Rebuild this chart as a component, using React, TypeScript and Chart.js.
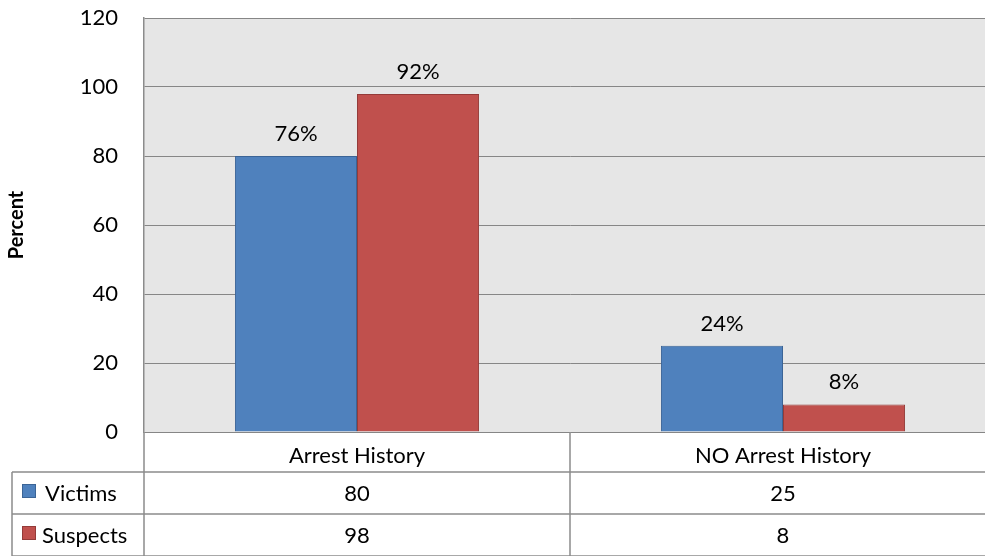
import React, { useEffect, useRef } from "react";
import { Chart, registerables } from "chart.js";

Chart.register(...registerables);

const categories = ["Arrest History", "NO Arrest History"];
const seriesNames = ["Victims", "Suspects"];
const victims = [80, 25];
const suspects = [98, 8];
const victimLabels = ["76%", "24%"];
const suspectLabels = ["92%", "8%"];
const yTicks = [0, 20, 40, 60, 80, 100, 120];

const FONT = "Lato, 'Open Sans', sans-serif";
const FS = 22;
const BLUE = "#4F81BD";
const BLUE_B = "#3B6496";
const RED = "#C0504D";
const RED_B = "#943B39";
const LINE = "#8c8c8c";

const tablePlugin = {
  id: "tablePlugin",
  beforeDraw(chart: any) {
    const { ctx, chartArea } = chart;
    ctx.save();
    ctx.fillStyle = "#ffffff";
    ctx.fillRect(0, 0, chart.width, chart.height);
    ctx.fillStyle = "#e6e6e6";
    ctx.fillRect(chartArea.left, chartArea.top, chartArea.right - chartArea.left, chartArea.bottom - chartArea.top);
    ctx.restore();
  },
  afterDraw(chart: any) {
    const { ctx, chartArea } = chart;
    const left = chartArea.left;
    const right = chartArea.right;
    const bottom = chartArea.bottom;
    const rowH = [40, 42, 42];
    const labelLeft = 12;
    ctx.save();
    // data labels
    ctx.font = `${FS}px ${FONT}`;
    ctx.fillStyle = "#000";
    ctx.textAlign = "center";
    ctx.textBaseline = "alphabetic";
    const labelSets = [victimLabels, suspectLabels];
    chart.data.datasets.forEach((ds: any, di: number) => {
      const meta = chart.getDatasetMeta(di);
      meta.data.forEach((bar: any, i: number) => {
        ctx.fillText(labelSets[di][i], bar.x, bar.y - 15);
      });
    });
    // table
    const n = categories.length;
    const colEdges: number[] = [];
    for (let i = 0; i <= n; i++) colEdges.push(left + ((right - left) * i) / n);
    ctx.strokeStyle = LINE;
    ctx.lineWidth = 1.5;
    const y0 = bottom;
    const y1 = y0 + rowH[0];
    const y2 = y1 + rowH[1];
    const y3 = y2 + rowH[2];
    ctx.beginPath();
    colEdges.forEach((x) => {
      ctx.moveTo(x, y0);
      ctx.lineTo(x, y3);
    });
    ctx.moveTo(labelLeft, y1);
    ctx.lineTo(labelLeft, y3);
    ctx.moveTo(labelLeft, y1);
    ctx.lineTo(right, y1);
    ctx.moveTo(labelLeft, y2);
    ctx.lineTo(right, y2);
    ctx.moveTo(labelLeft, y3);
    ctx.lineTo(right, y3);
    ctx.stroke();

    ctx.fillStyle = "#000";
    ctx.font = `${FS}px ${FONT}`;
    ctx.textAlign = "center";
    ctx.textBaseline = "middle";
    categories.forEach((c, i) => {
      const cx = (colEdges[i] + colEdges[i + 1]) / 2;
      ctx.fillText(c, cx, (y0 + y1) / 2 + 4);
      ctx.fillText(String(victims[i]), cx, (y1 + y2) / 2 + 1);
      ctx.fillText(String(suspects[i]), cx, (y2 + y3) / 2 + 1);
    });
    const rows = [
      { name: seriesNames[0], fill: BLUE, border: BLUE_B, yc: (y1 + y2) / 2 },
      { name: seriesNames[1], fill: RED, border: RED_B, yc: (y2 + y3) / 2 },
    ];
    rows.forEach((r) => {
      ctx.fillStyle = r.fill;
      ctx.fillRect(22, r.yc - 9, 14, 14);
      ctx.strokeStyle = r.border;
      ctx.lineWidth = 1;
      ctx.strokeRect(22.5, r.yc - 8.5, 13, 13);
      ctx.fillStyle = "#000";
      ctx.textAlign = "left";
      ctx.fillText(r.name, r.name === "Victims" ? 45 : 42, r.yc + 1);
    });
    // y axis title
    ctx.save();
    ctx.translate(17, (chartArea.top + chartArea.bottom) / 2);
    ctx.rotate(-Math.PI / 2);
    ctx.font = `bold 20px ${FONT}`;
    ctx.textAlign = "center";
    ctx.textBaseline = "middle";
    ctx.fillText("Percent", 0, 0);
    ctx.restore();
    ctx.restore();
  },
};

export default function App() {
  const ref = useRef<HTMLCanvasElement | null>(null);
  useEffect(() => {
    if (!ref.current) return;
    const chart = new Chart(ref.current, {
      type: "bar",
      data: {
        labels: categories,
        datasets: [
          {
            label: seriesNames[0],
            data: victims,
            backgroundColor: BLUE,
            borderColor: BLUE_B,
            borderWidth: 1,
            categoryPercentage: 0.573,
            barPercentage: 1,
          },
          {
            label: seriesNames[1],
            data: suspects,
            backgroundColor: RED,
            borderColor: RED_B,
            borderWidth: 1,
            categoryPercentage: 0.573,
            barPercentage: 1,
          },
        ],
      },
      options: {
        animation: false,
        responsive: false,
        maintainAspectRatio: false,
        layout: { padding: { top: 18, bottom: 124, left: 0, right: 0 } },
        plugins: {
          legend: { display: false },
          tooltip: { enabled: false },
        },
        scales: {
          x: { display: false },
          y: {
            min: 0,
            max: 120,
            afterBuildTicks(scale: any) {
              scale.ticks = yTicks.map((v) => ({ value: v }));
            },
            afterFit(scale: any) {
              scale.width = 144;
              scale.paddingTop = 0;
              scale.paddingBottom = 0;
            },
            ticks: {
              color: "#000",
              font: { family: FONT, size: FS },
              padding: 26,
            },
            grid: {
              color: "#868686",
              lineWidth: 1,
              drawTicks: false,
            },
            border: { color: LINE, width: 1.5 },
          },
        },
      },
      plugins: [tablePlugin],
    });
    return () => chart.destroy();
  }, []);
  return (
    <div style={{ position: "fixed", left: 0, top: 0, width: 985, height: 556, overflow: "hidden", background: "#fff" }}>
      <canvas ref={ref} width={996} height={556} style={{ display: "block" }} />
    </div>
  );
}
